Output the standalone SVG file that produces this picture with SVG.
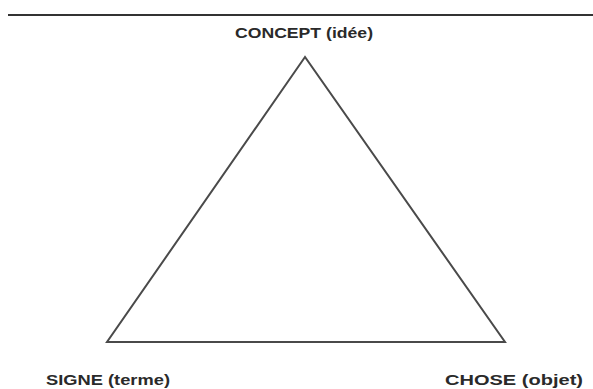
<svg xmlns="http://www.w3.org/2000/svg" width="593" height="389" viewBox="0 0 593 389">
<style>
.lbl{font-family:"Liberation Sans",Arial,sans-serif;font-weight:bold;font-size:15px;fill:#2a2a2a}
.edge{stroke:#4a4a4a;stroke-width:2;fill:none;stroke-linejoin:miter}
</style>
<rect width="593" height="389" fill="#ffffff"/>
<line x1="8" y1="15" x2="593" y2="15" stroke="#333" stroke-width="2"/>
<g id="connectors">
<polygon class="edge" points="305,57 107,342 505,342"/>
</g>
<g id="concept"><text class="lbl" x="235" y="38" textLength="138" lengthAdjust="spacingAndGlyphs">CONCEPT (idée)</text></g>
<g id="signe"><text class="lbl" x="46" y="385" textLength="124" lengthAdjust="spacingAndGlyphs">SIGNE (terme)</text></g>
<g id="chose"><text class="lbl" x="445" y="385" textLength="138" lengthAdjust="spacingAndGlyphs">CHOSE (objet)</text></g>
</svg>
